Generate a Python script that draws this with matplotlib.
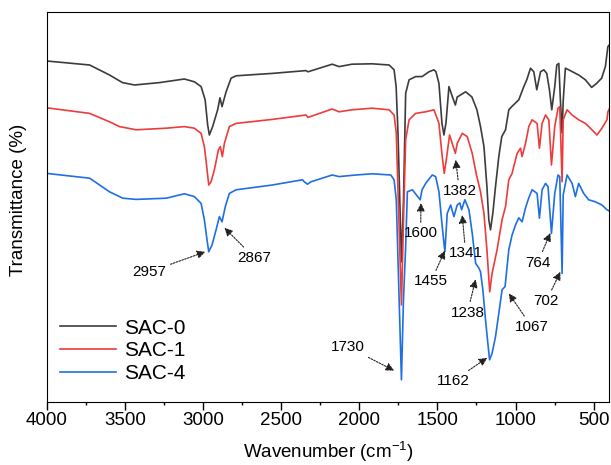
import matplotlib
matplotlib.use("Agg")
import matplotlib.pyplot as plt
from matplotlib.ticker import MultipleLocator

plt.rcParams['font.family'] = ['Liberation Sans', 'DejaVu Sans']
plt.rcParams['mathtext.fontset'] = 'custom'
plt.rcParams['mathtext.rm'] = 'Liberation Sans'

# FTIR spectra (wavenumber in cm-1, transmittance in a.u.)
wn_sac0 = [4000, 3725, 3598, 3515, 3438, 3278, 3119, 3055, 3012, 2986, 2970, 2959, 2938, 2906,
           2891, 2878, 2852, 2820, 2788, 2556, 2341, 2328, 2173, 2129, 2046, 1918, 1809, 1777,
           1764, 1752, 1730, 1717, 1703, 1681, 1639, 1598, 1554, 1522, 1509, 1490, 1471, 1458,
           1445, 1426, 1408, 1385, 1373, 1319, 1279, 1247, 1224, 1202, 1183, 1171, 1160, 1145,
           1128, 1107, 1088, 1064, 1043, 1024, 979, 947, 928, 904, 883, 864, 840, 819, 800, 783,
           768, 749, 736, 723, 713, 702, 695, 681, 660, 596, 553, 513, 481, 449, 425, 409, 400]
t_sac0 = [90, 89, 86.5, 84.6, 84, 84.6, 85.5, 84.8, 83.6, 80.3, 74, 71.5, 73.6, 77.8,
          80.8, 78.6, 82.3, 85.7, 86.3, 86.9, 87.6, 87.3, 89.2, 88.6, 89.2, 89.3, 89, 87.8,
          83.6, 72, 39.8, 55, 81.9, 85.3, 86.1, 86.1, 87.3, 87.8, 87.3, 84.4, 74.5, 71.5,
          74.5, 83.6, 81.5, 79, 81, 82.3, 81, 77.8, 73.6, 68.6, 58.6, 50.3, 47.8, 52,
          58.6, 66.1, 71.1, 72.8, 77.8, 78.6, 80.3, 83.6, 85.3, 88.2, 87.3, 82.8, 87.3, 87.8, 86.9, 82.8,
          77.8, 83.6, 89, 89.4, 80.3, 72, 80, 88.2, 87.8, 86.5, 85.3, 83.4, 84.4, 85.7, 88.6, 93.6, 94]

wn_sac1 = [4000, 3725, 3598, 3534, 3427, 3235, 3119, 3055, 3012, 2991, 2976, 2963, 2948, 2927,
           2901, 2889, 2876, 2863, 2831, 2788, 2556, 2341, 2328, 2173, 2129, 2046, 1918, 1809,
           1777, 1763, 1730, 1717, 1703, 1681, 1639, 1575, 1522, 1490, 1469, 1456, 1443, 1422,
           1405, 1385, 1373, 1341, 1309, 1277, 1252, 1224, 1202, 1183, 1165, 1150, 1118, 1086,
           1064, 1043, 1022, 990, 968, 958, 936, 915, 894, 862, 847, 830, 808, 787, 770, 749,
           728, 717, 702, 695, 670, 638, 596, 553, 511, 479, 447, 415, 409, 400]
t_sac1 = [78.3, 76.9, 74.8, 73.6, 72.8, 73.2, 73.6, 73.2, 71.9, 68.6, 63.6, 59, 59.8, 62.8,
          67.8, 68.6, 66.1, 69.4, 73.6, 74.4, 75.4, 76.5, 75.9, 78, 77.3, 77.8, 78.2, 77.8,
          76.5, 72, 29, 50, 70.3, 75.3, 76.9, 77.3, 77.8, 74.4, 66.1, 61.9, 65.3, 71.5,
          69.4, 66.9, 69.4, 71.9, 71.1, 66.9, 61.9, 57.3, 51.9, 42.8, 32.3, 36.9, 42.8, 50.3,
          53.6, 60.3, 61.9, 66.9, 68.2, 66.1, 69.4, 73.6, 75.3, 74.4, 68.2, 74.4, 76.5, 75.3, 64, 73.6,
          78.2, 78.6, 59.8, 75.3, 77.8, 76.5, 75.3, 74.4, 72.8, 71.5, 73.2, 75.3, 77.3, 78]

wn_sac4 = [4000, 3725, 3598, 3513, 3427, 3235, 3119, 3055, 3012, 2991, 2974, 2963, 2942, 2916,
           2895, 2878, 2857, 2831, 2788, 2556, 2363, 2352, 2331, 2309, 2173, 2129, 2022, 1916,
           1798, 1777, 1763, 1730, 1717, 1703, 1692, 1660, 1610, 1598, 1575, 1533, 1511, 1490,
           1469, 1452, 1437, 1415, 1394, 1373, 1356, 1345, 1324, 1298, 1277, 1255, 1234, 1224,
           1209, 1192, 1177, 1166, 1150, 1128, 1107, 1086, 1067, 1043, 1022, 1000, 979, 958,
           936, 915, 894, 862, 847, 830, 808, 792, 770, 749, 728, 717, 702, 695, 670, 638, 617,
           596, 564, 532, 489, 447, 415, 400]
t_sac4 = [61.9, 60.7, 57.3, 55.7, 55.4, 55.7, 56.8, 56.1, 54.4, 50.3, 45.3, 42.3, 44, 47.8,
          51.1, 49.8, 53.6, 56.9, 57.8, 59, 60.3, 59.8, 59.2, 59.8, 61.5, 61.1, 61.5, 61.8,
          61.5, 60.3, 55.3, 10.3, 30.3, 43.6, 57.3, 57.8, 55.3, 57.8, 59.4, 61.5, 61.1, 57.3,
          48.6, 42.3, 51.9, 54, 51.1, 54, 54.5, 52.8, 55.3, 52.8, 46.9, 39.4, 38.2, 37.3,
          32.8, 25.3, 19.4, 15.3, 16.9, 21.1, 26.9, 32.8, 33.6, 42.8, 46.5, 49, 50.8, 49.8,
          53.3, 55.8, 57.8, 56.9, 50.7, 57.8, 59.4, 58.6, 46.9, 56.9, 61.5, 61.1, 36.9, 56.5, 61.5, 59.4, 56.1,
          59.4, 56.9, 55.3, 54.8, 54, 52.8, 52.5]

series_names = ['SAC-0', 'SAC-1', 'SAC-4']
series_colors = ['#3c3c3c', '#ee3b3b', '#1f6fe3']

peak_labels = ['2957', '2867', '1730', '1600', '1455', '1382', '1341', '1238', '1162', '1067', '764', '702']
peak_tips = [(2985, 42.3), (2863, 48.3), (1777, 12.6), (1605, 54.5), (1452, 42.6), (1383, 65.3),
             (1341, 51.5), (1255, 35.4), (1181, 15.8), (1043, 31.9), (777, 47), (713, 37.3)]
label_pos = [(3342, 37.3), (2671, 40.8), (2071, 18.5), (1607, 46.9), (1541, 34.9), (1359, 57.5),
             (1319, 41.9), (1308, 27.1), (1400, 10), (896, 23.5), (858, 39.6), (803, 30)]

fig = plt.figure(figsize=(6.11, 4.65), dpi=100)
ax = fig.add_axes([0.0764, 0.1355, 0.9208, 0.8387])

for wn, t, name, c in zip([wn_sac0, wn_sac1, wn_sac4], [t_sac0, t_sac1, t_sac4],
                          series_names, series_colors):
    ax.plot(wn, t, color=c, lw=1.2, label=name)

for lab, tip, pos in zip(peak_labels, peak_tips, label_pos):
    ax.annotate(lab, xy=tip, xytext=pos, ha='center', va='center', fontsize=11,
                arrowprops=dict(arrowstyle='-|>', linestyle=(0, (1.5, 1.2)), color='#222222',
                                lw=0.8, mutation_scale=12, shrinkA=1, shrinkB=0))

ax.set_xlim(4000, 400)
ax.set_ylim(4.75, 102.25)
ax.xaxis.set_major_locator(MultipleLocator(500))
ax.xaxis.set_minor_locator(MultipleLocator(250))
ax.tick_params(axis='x', which='major', direction='out', length=5.5, width=1, labelsize=13.5, pad=2)
ax.tick_params(axis='x', which='minor', direction='out', length=2, width=1)
ax.set_yticks([])
ax.set_xlabel('Wavenumber (cm$^{-1}$)', fontsize=13.5)
ax.xaxis.set_label_coords(0.5, -0.095)
ax.set_ylabel('Transmittance (%)', fontsize=13.5)
ax.yaxis.set_label_coords(-0.035, 0.518)

ax.legend(loc='lower left', bbox_to_anchor=(-0.01, 0.0), frameon=False, fontsize=15,
          handlelength=2.7, handletextpad=0.4, labelspacing=0.18)

fig.savefig('out.png', dpi=100)
